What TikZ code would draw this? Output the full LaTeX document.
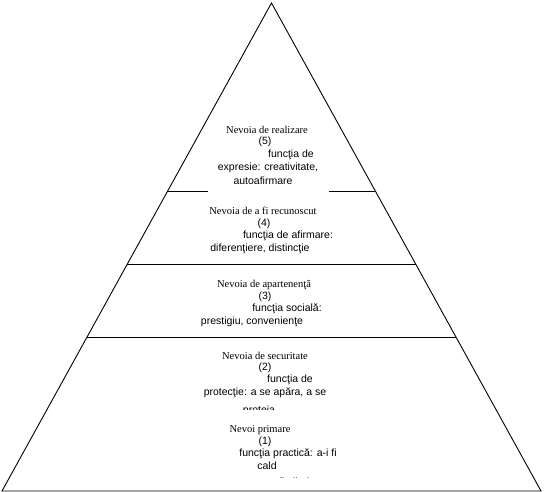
\documentclass[tikz,border=0pt]{standalone}
\usepackage{fontspec}
\setmainfont{Liberation Serif}
\newfontfamily\arialf{Liberation Sans}
\begin{document}
\begin{tikzpicture}[x=1pt,y=-1pt,
  edge/.style={line width=0.9pt,black},
  ttl/.style={inner sep=0pt,font=\fontsize{10.5}{12}\selectfont},
  txt/.style={inner sep=0pt,font=\arialf\fontsize{10.5}{12}\selectfont}]
\useasboundingbox (0,0) rectangle (544,492);
% triangle
\coordinate (apex) at (271.5,3);
\coordinate (bl) at (2,491);
\coordinate (br) at (541,491);
\draw[edge] (apex) -- (bl) -- (br) -- cycle;
% level separators
\coordinate (s5a) at (167.7,191); \coordinate (s5b) at (208,191);
\coordinate (s5c) at (329,191); \coordinate (s5d) at (375.3,191);
\draw[edge] (s5a) -- (s5b);
\draw[edge] (s5c) -- (s5d);
\coordinate (s4a) at (127.4,264); \coordinate (s4b) at (415.6,264);
\draw[edge] (s4a) -- (s4b);
\coordinate (s3a) at (87.1,337); \coordinate (s3b) at (456,337);
\draw[edge] (s3a) -- (s3b);
% level 5
\node[ttl] (t5) at (267,130) {Nevoia de realizare};
\node[txt] (n5) at (265,142) {(5)};
\node[txt] (a5) at (291,155) {funcţia de};
\node[txt] (b5) at (268,168) {expresie: creativitate,};
\node[txt] (c5) at (263,181) {autoafirmare};
% level 4
\node[ttl] (t4) at (263,211) {Nevoia de a fi recunoscut};
\node[txt] (n4) at (264,224) {(4)};
\node[txt] (a4) at (288,236) {funcţia de afirmare:};
\node[txt] (b4) at (260,249) {diferenţiere, distincţie};
% level 3
\node[ttl] (t3) at (264,285) {Nevoia de apartenenţă};
\node[txt] (n3) at (265,297) {(3)};
\node[txt] (a3) at (287,309) {funcţia socială:};
\node[txt] (b3) at (252,322) {prestigiu, convenienţe};
% level 2
\node[ttl] (t2) at (265,356) {Nevoia de securitate};
\node[txt] (n2) at (265,368) {(2)};
\node[txt] (a2) at (290,380) {funcţia de};
\node[txt] (b2) at (265,393) {protecţie: a se apăra, a se};
\begin{scope}
\clip (200,400) rectangle (340,409.5);
\node[txt] (c2) at (259,411) {proteja};
\end{scope}
% level 1
\node[ttl] (t1) at (260,430) {Nevoi primare};
\node[txt] (n1) at (265,442) {(1)};
\node[txt] (a1) at (288,454) {funcţia practică: a-i fi};
\node[txt] (b1) at (267,466) {cald};
\begin{scope}
\clip (200,472) rectangle (340,477);
\node[txt] (c1) at (290,482) {a fi sătul};
\end{scope}
\end{tikzpicture}
\end{document}
